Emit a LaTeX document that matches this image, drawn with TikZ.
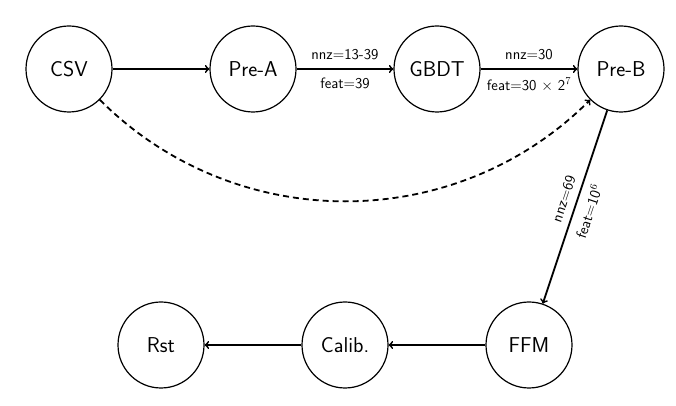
\RequirePackage{fix-cm}
\documentclass[tikz,border=0pt]{standalone}
\begin{document}
\begin{tikzpicture}[x=1pt,y=1pt,
  state/.style={circle,draw,line width=1.2pt,minimum size=86pt,inner sep=0pt,
    font=\sffamily\fontsize{21.5}{24}\selectfont},
  edge/.style={->,line width=1.8pt},
  lbl/.style={font=\sffamily\fontsize{15}{17}\selectfont,inner sep=3pt}]
\useasboundingbox (0,0) rectangle (676,406);
\node[state] (csv)  at (69,337)  {CSV};
\node[state] (prea) at (253,337) {Pre-A};
\node[state] (gbdt) at (437,337) {GBDT};
\node[state] (preb) at (621,337) {Pre-B};
\node[state] (rst)  at (161,61)  {Rst};
\node[state] (cal)  at (345,61)  {Calib.};
\node[state] (ffm)  at (529,61)  {FFM};
\draw[edge] (csv) -- (prea);
\draw[edge] (prea) -- node[lbl,above=5pt]{nnz$=$13-39} node[lbl,below=5pt]{feat$=$39} (gbdt);
\draw[edge] (gbdt) -- node[lbl,above=5pt]{nnz$=$30} node[lbl,below=5pt]{feat$=$30 $\times$ 2$^7$} (preb);
\draw[edge] (preb) -- node[lbl,sloped,above=4pt,pos=0.48]{nnz$=$69} node[lbl,sloped,below=4pt,pos=0.5]{feat$=$10$^6$} (ffm);
\draw[edge] (ffm) -- (cal);
\draw[edge] (cal) -- (rst);
\draw[edge,dash pattern=on 6pt off 4pt] (csv) to[bend right=45] (preb);
\end{tikzpicture}
\end{document}
